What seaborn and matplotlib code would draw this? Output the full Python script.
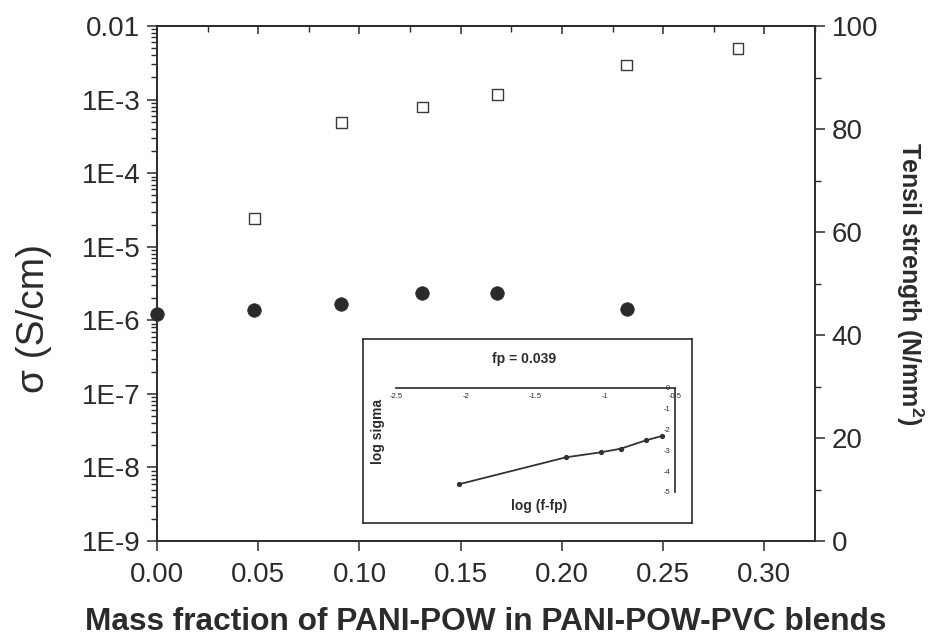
import numpy as np
import pandas as pd
import matplotlib
matplotlib.use("Agg")
import matplotlib.pyplot as plt
from matplotlib.ticker import MultipleLocator, LogLocator, NullFormatter
import seaborn as sns

# ---------------- data ----------------
cond_frac = [0.048, 0.091, 0.131, 0.168, 0.232, 0.287]
cond_sigma = [2.4e-5, 4.9e-4, 7.9e-4, 1.18e-3, 2.96e-3, 5.0e-3]

tens_frac = [0.0, 0.048, 0.091, 0.131, 0.168, 0.232]
tens_strength = [44.1, 44.9, 46.0, 48.1, 48.1, 45.0]

inset_logf = [-2.05, -1.28, -1.03, -0.89, -0.71, -0.59]
inset_logsigma = [-4.63, -3.33, -3.09, -2.92, -2.52, -2.30]

left_ticks = [1e-9, 1e-8, 1e-7, 1e-6, 1e-5, 1e-4, 1e-3, 1e-2]
left_labels = ["1E-9", "1E-8", "1E-7", "1E-6", "1E-5", "1E-4", "1E-3", "0.01"]
x_ticks = [0.00, 0.05, 0.10, 0.15, 0.20, 0.25, 0.30]
x_labels = ["0.00", "0.05", "0.10", "0.15", "0.20", "0.25", "0.30"]
right_ticks = [0, 20, 40, 60, 80, 100]
inset_xticks = [-2.5, -2, -1.5, -1, -0.5]
inset_xlabels = ["-2.5", "-2", "-1.5", "-1", "-0.5"]
inset_yticks = [0, -1, -2, -3, -4, -5]
inset_ylabels = ["0", "-1", "-2", "-3", "-4", "-5"]

# ---------------- style ----------------
sns.set_style("white")
plt.rcParams["font.family"] = ["Liberation Sans", "DejaVu Sans"]
plt.rcParams["mathtext.fontset"] = "custom"
plt.rcParams["mathtext.rm"] = "Liberation Sans"
plt.rcParams["mathtext.bf"] = "Liberation Sans:bold"
INK = "#2b2b2b"
plt.rcParams["text.color"] = INK
plt.rcParams["axes.labelcolor"] = INK
plt.rcParams["xtick.color"] = INK
plt.rcParams["ytick.color"] = INK
plt.rcParams["axes.edgecolor"] = INK

W, H = 932, 638
fig = plt.figure(figsize=(W / 100, H / 100), dpi=100)
L, R, T, B = 157, 815, 26, 541
ax = fig.add_axes([L / W, (H - B) / H, (R - L) / W, (B - T) / H])
ax.set_facecolor("white")

df_c = pd.DataFrame({"f": cond_frac, "sigma": cond_sigma})
df_t = pd.DataFrame({"f": tens_frac, "ts": tens_strength})

sns.scatterplot(data=df_c, x="f", y="sigma", ax=ax, marker="s", s=60,
                facecolor="none", edgecolor="#3a3a3a", linewidth=1.0, zorder=3)
ax.set_yscale("log")
ax.set_ylim(1e-9, 1e-2)
ax.set_xlim(0, 0.325)

for sp in ax.spines.values():
    sp.set_linewidth(1.2)
    sp.set_color(INK)

ax.set_xticks(x_ticks, x_labels)
ax.xaxis.set_minor_locator(MultipleLocator(0.025))
ax.set_yticks(left_ticks, left_labels)
ax.yaxis.set_minor_locator(LogLocator(base=10, subs=np.arange(2, 10), numticks=20))
ax.yaxis.set_minor_formatter(NullFormatter())
ax.tick_params(axis="both", which="major", direction="out", length=7, width=1.1,
               labelsize=20, pad=5)
ax.tick_params(axis="x", which="major", pad=8)
ax.tick_params(axis="both", which="minor", direction="out", length=4, width=1.0)
ax.tick_params(axis="x", bottom=True, top=False)
ax.tick_params(axis="y", left=True, right=False)

sec = ax.secondary_xaxis("top")
sec.set_xticks(x_ticks)
sec.xaxis.set_minor_locator(MultipleLocator(0.025))
sec.tick_params(axis="x", which="major", direction="in", length=6, width=1.1, labeltop=False)
sec.tick_params(axis="x", which="minor", direction="in", length=4, width=1.0)
sec.spines["top"].set_linewidth(1.2)

ax.set_xlabel("Mass fraction of PANI-POW in PANI-POW-PVC blends", fontsize=22.8,
              fontweight="bold", labelpad=14)
ax.set_ylabel("σ (S/cm)", fontsize=28)
ax.yaxis.set_label_coords(-0.16, 0.433)

ax2 = ax.twinx()
sns.scatterplot(data=df_t, x="f", y="ts", ax=ax2, marker="o", s=95,
                color="#2a2a2a", edgecolor="#2a2a2a", linewidth=0.5,
                zorder=3, clip_on=False)
ax2.set_ylim(0, 100)
ax2.set_yticks(right_ticks)
ax2.yaxis.set_minor_locator(MultipleLocator(10))
ax2.tick_params(axis="y", which="major", direction="out", length=7, width=1.1,
                labelsize=20, pad=5)
ax2.tick_params(axis="y", which="minor", direction="out", length=4, width=1.0)
for sp in ax2.spines.values():
    sp.set_linewidth(1.2)
ax2.set_ylabel(r"Tensil strength (N/mm$\mathbf{^2}$)", fontsize=18,
               fontweight="bold", rotation=-90)
ax2.yaxis.set_label_coords((925 - L) / (R - L), 0.5)

# ---------------- inset ----------------
bx0, bx1, by0, by1 = 363, 692, 339, 523
box = fig.add_axes([bx0 / W, (H - by1) / H, (bx1 - bx0) / W, (by1 - by0) / H])
box.set_facecolor("white")
box.set_xticks([])
box.set_yticks([])
for sp in box.spines.values():
    sp.set_linewidth(1.2)
    sp.set_color(INK)
box.text(0.49, 0.89, "fp = 0.039", transform=box.transAxes, ha="center",
         va="center", fontsize=10, fontweight="bold")
box.text(0.045, 0.5, "log sigma", transform=box.transAxes, ha="center",
         va="center", rotation=90, fontsize=10, fontweight="bold")
box.text(0.535, 0.09, "log (f-fp)", transform=box.transAxes, ha="center",
         va="center", fontsize=10, fontweight="bold")

ix0, ix1, iy0, iy1 = 396, 675, 388, 492
ins = fig.add_axes([ix0 / W, (H - iy1) / H, (ix1 - ix0) / W, (iy1 - iy0) / H])
ins.patch.set_alpha(0)
df_i = pd.DataFrame({"lf": inset_logf, "ls": inset_logsigma})
sns.lineplot(data=df_i, x="lf", y="ls", ax=ins, color="#333333", linewidth=1.3,
             marker="o", markersize=3, markeredgecolor="#333333")
ins.set_xlim(-2.5, -0.5)
ins.set_ylim(-5, 0)
ins.spines["top"].set_visible(False)
ins.spines["right"].set_visible(False)
ins.spines["bottom"].set_position(("data", 0))
ins.spines["left"].set_position(("data", -0.5))
for sp in ("bottom", "left"):
    ins.spines[sp].set_linewidth(1.2)
    ins.spines[sp].set_color(INK)
ins.set_xticks(inset_xticks, inset_xlabels)
ins.set_yticks(inset_yticks, inset_ylabels)
ins.tick_params(axis="both", which="major", direction="out", length=2, width=0.8,
                labelsize=5.5, pad=1.5)
ins.set_xlabel("")
ins.set_ylabel("")

fig.savefig("out.png", dpi=100)
